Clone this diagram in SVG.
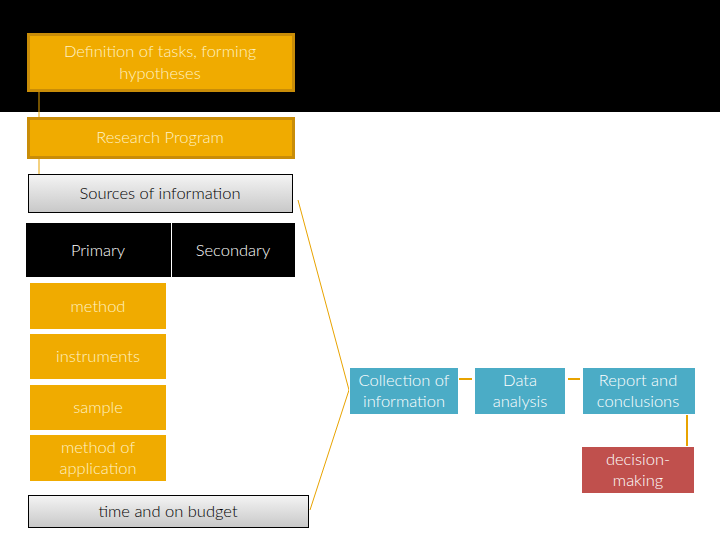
<svg xmlns="http://www.w3.org/2000/svg" width="720" height="540" viewBox="0 0 720 540">
<defs>
<linearGradient id="grey" x1="0" y1="0" x2="0" y2="1">
<stop offset="0" stop-color="#f4f4f4"/>
<stop offset="1" stop-color="#c8c8c8"/>
</linearGradient>
</defs>
<style>
text{font-family:Lato,"Open Sans","Liberation Sans",sans-serif;font-size:16.5px;font-weight:300;text-anchor:middle}
.gold{fill:#f0ab00}
.goldb{fill:#f0ab00;stroke:#c98d08;stroke-width:3}
.pale{fill:#fff2c4}
.grey{fill:url(#grey);stroke:#000;stroke-width:1}
.blk{fill:#000}
.w{fill:#fff}
.k{fill:#000}
.blue{fill:#4bacc6;stroke:#ffffff;stroke-width:1}
.red{fill:#c0504d}
.line{stroke:#e8a300;stroke-width:1;fill:none}
.thick{stroke:#e8a300;stroke-width:2;fill:none}
</style>
<rect x="0" y="0" width="720" height="540" fill="#fff"/>
<rect x="0" y="0" width="720" height="112" fill="#000"/>
<g id="connectors">
<line class="line" x1="39" y1="91" x2="39" y2="117"/>
<line class="line" x1="39" y1="158" x2="39" y2="174"/>
<polyline class="line" points="298,200 349,390 310,510"/>
<line class="thick" x1="459" y1="379" x2="472" y2="379"/>
<line class="thick" x1="568" y1="379" x2="580" y2="379"/>
<line class="thick" x1="687" y1="415" x2="687" y2="446"/>
</g>
<g id="definition">
<rect class="goldb" x="28.5" y="34.5" width="265" height="56"/>
<text class="pale" x="160" y="57">Definition of tasks, forming</text>
<text class="pale" x="160" y="79">hypotheses</text>
</g>
<g id="research">
<rect class="goldb" x="28.5" y="118.5" width="265" height="39"/>
<text class="pale" x="160" y="143">Research Program</text>
</g>
<g id="sources">
<rect class="grey" x="28.5" y="174.5" width="264" height="38"/>
<text class="k" x="160" y="199">Sources of information</text>
</g>
<g id="primary">
<rect class="blk" x="26" y="223" width="145" height="54"/>
<text class="w" x="98" y="256">Primary</text>
</g>
<g id="secondary">
<rect class="blk" x="172" y="223" width="123" height="54"/>
<text class="w" x="233" y="256">Secondary</text>
</g>
<g id="method">
<rect class="gold" x="30" y="283" width="136" height="46"/>
<text class="pale" x="98" y="312">method</text>
</g>
<g id="instruments">
<rect class="gold" x="30" y="334" width="136" height="45"/>
<text class="pale" x="98" y="362">instruments</text>
</g>
<g id="sample">
<rect class="gold" x="30" y="385" width="136" height="45"/>
<text class="pale" x="98" y="413">sample</text>
</g>
<g id="method-of-application">
<rect class="gold" x="30" y="435" width="136" height="46"/>
<text class="pale" x="98" y="453">method of</text>
<text class="pale" x="98" y="474">application</text>
</g>
<g id="time-budget">
<rect class="grey" x="28.5" y="495.5" width="280" height="32"/>
<text class="k" x="168" y="517">time and on budget</text>
</g>
<g id="collection">
<rect class="blue" x="349.5" y="367.5" width="109" height="47"/>
<text class="w" x="404" y="386">Collection of</text>
<text class="w" x="404" y="407">information</text>
</g>
<g id="data-analysis">
<rect class="blue" x="474.5" y="367.5" width="91" height="47"/>
<text class="w" x="520" y="386">Data</text>
<text class="w" x="520" y="407">analysis</text>
</g>
<g id="report">
<rect class="blue" x="582.5" y="367.5" width="113" height="47"/>
<text class="w" x="638" y="386">Report and</text>
<text class="w" x="638" y="407">conclusions</text>
</g>
<g id="decision">
<rect class="red" x="582" y="447" width="112" height="46"/>
<text class="w" x="638" y="465">decision-</text>
<text class="w" x="638" y="486">making</text>
</g>
</svg>
